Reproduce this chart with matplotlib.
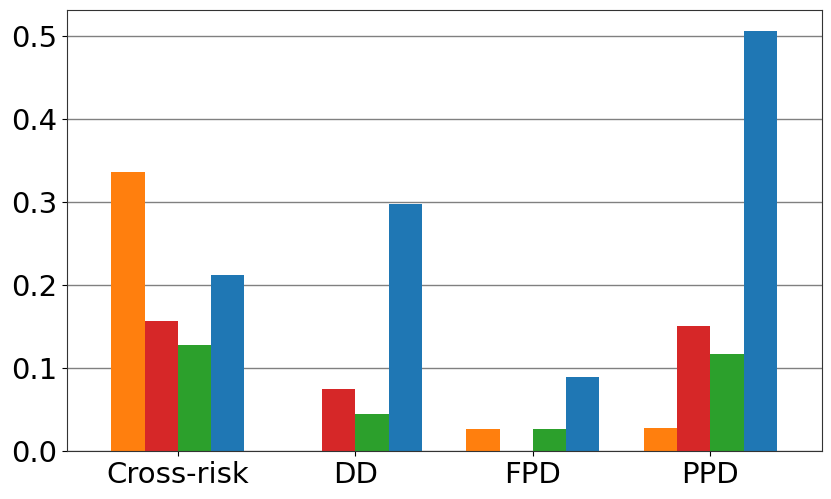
import matplotlib
matplotlib.use("Agg")
import matplotlib.pyplot as plt
import numpy as np

categories = ["Cross-risk", "DD", "FPD", "PPD"]
series_orange = [0.336, 0.0, 0.027, 0.028]
series_red = [0.157, 0.075, 0.0, 0.150]
series_green = [0.128, 0.044, 0.027, 0.117]
series_blue = [0.212, 0.297, 0.089, 0.505]

series = [
    (series_orange, "#ff7f0e"),
    (series_red, "#d62728"),
    (series_green, "#2ca02c"),
    (series_blue, "#1f77b4"),
]

fig = plt.figure(figsize=(8.31, 4.99), dpi=100)
ax = fig.add_axes([0.0806, 0.0962, 0.9086, 0.884])

x = np.arange(len(categories))
width = 0.1875
for i, (vals, color) in enumerate(series):
    offset = (i - 1.5) * width
    ax.bar(x + offset, vals, width, color=color, zorder=2)

ax.set_xticks(x)
ax.set_xticklabels(categories)
ax.set_xlim(-0.625, 3.63)
ax.set_ylim(0, 0.531)
ax.set_yticks([0.0, 0.1, 0.2, 0.3, 0.4, 0.5])
ax.yaxis.grid(True, color="gray", linewidth=1)
ax.set_axisbelow(True)
ax.tick_params(labelsize=21)
for s in ax.spines.values():
    s.set_color("#333333")

fig.savefig("out.png", dpi=100)
